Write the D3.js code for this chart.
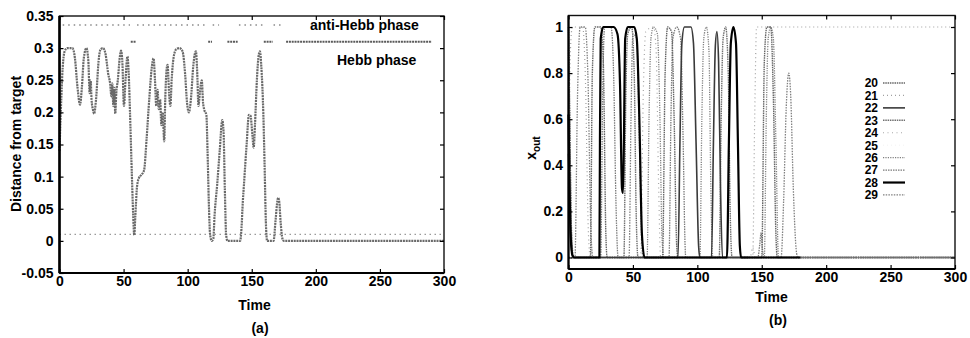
<!DOCTYPE html>
<html>
<head>
<meta charset="utf-8">
<script src="https://cdn.jsdelivr.net/npm/d3@7"></script>
<style>
  html, body { margin: 0; padding: 0; background: #fff; }
  svg { display: block; }
  text { font-family: "Liberation Sans", Arial, sans-serif; font-weight: bold; }
</style>
</head>
<body>
<svg id="chart" width="970" height="338"></svg>
<script>
// ---------------- DATA: panel (a) ----------------
const distTime = [0,1,2.5,4,6,10,12,14,16,17.5,19,21,22.5,23.5,24.3,25,26,27,28.5,30.5,32,34,36,38,39.5,40.5,41.2,42,42.8,43.5,44.3,45.5,47,48,49,50.3,51.5,53,54,55,56.5,57.5,58.3,59.2,60.5,62,64,66,68,70,72,73.4,74.5,75.5,76.5,77.5,78.5,79.5,80.5,81.7,82.5,83.5,84.3,85.5,86.5,87.5,89,91,93.5,96,98,99.5,101,102.5,104.5,106.4,107.5,108.4,109.5,111,112,112.8,114.6,115.5,116.5,117.5,118.8,120,121,123,125,127,128,129,130,131,141,142,143,144,146,147.8,149,150.5,151.5,152.5,154,155.5,156.4,157.5,159,160,161,162,167,168.5,170,170.6,171.5,172.5,174,175,300];
const distValue = [0.14,0.20,0.27,0.295,0.30,0.30,0.285,0.24,0.212,0.24,0.285,0.30,0.28,0.23,0.25,0.22,0.205,0.198,0.22,0.28,0.298,0.30,0.29,0.26,0.245,0.225,0.245,0.21,0.238,0.198,0.23,0.25,0.285,0.296,0.28,0.21,0.25,0.287,0.26,0.20,0.10,0.04,0.009,0.04,0.085,0.098,0.103,0.11,0.16,0.22,0.27,0.284,0.25,0.21,0.235,0.205,0.22,0.18,0.20,0.155,0.22,0.265,0.274,0.23,0.21,0.25,0.285,0.298,0.30,0.295,0.26,0.215,0.20,0.22,0.275,0.295,0.26,0.21,0.23,0.25,0.215,0.205,0.196,0.14,0.06,0.01,0.0,0.003,0.04,0.087,0.14,0.188,0.17,0.08,0.01,0.0,0.0,0.02,0.06,0.09,0.15,0.196,0.195,0.165,0.145,0.18,0.25,0.29,0.295,0.27,0.2,0.12,0.03,0.0,0.0,0.03,0.062,0.067,0.06,0.03,0.003,0.0,0.0];
const thresholdValue = 0.01;
const hebbLevel = 0.31;
const antiHebbLevel = 0.336;
const hebbIntervals = [[55.6,59.5],[116,119],[131,139],[159.4,166.4],[176.8,290.5]];
const antiHebbIntervals = [[2.5,55],[60.5,115.5],[119.5,124.5],[140,158.5],[167,173]];
const timeTicks = [0,50,100,150,200,250,300];
const distTicks = [-0.05,0,0.05,0.1,0.15,0.2,0.25,0.3,0.35];
const distTickLabels = ["-0.05","0","0.05","0.1","0.15","0.2","0.25","0.3","0.35"];

// ---------------- DATA: panel (b) ----------------
const seriesNames = ["20","21","22","23","24","25","26","27","28","29"];
const s20 = [[0,1],[1,0.6],[2,0.15],[3.5,0],[17,0],[18.5,0.8],[20.5,1],[25,1],[27,0.85],[29,0.1],[30,0],[73,0],[75,0.8],[77,1],[80,0.98],[82,0.6],[84,0.05],[85,0],[150,0],[152,0.85],[154,1],[157,1],[159,0.7],[161,0.1],[162,0],[300,0]];
const s21 = [[0,0.3],[1.5,0.9],[3,1],[11,1],[13,0.8],[15.5,0.1],[17,0],[143,0],[144.5,0.6],[146,1],[300,1]];
const s22 = [[0,0.45],[1,0.2],[2.5,0.03],[4,0],[85,0],[86.5,0.5],[88,0.93],[90,1],[95,1],[97,0.93],[99,0.5],[101,0.05],[102,0],[111,0],[112.5,0.5],[114,0.92],[115.2,0.98],[116.5,0.85],[118,0.3],[119.5,0],[140,0]];
const s23 = [[0,0.9],[1,0.5],[2,0.1],[3.5,0],[43,0],[44.5,0.7],[46,0.97],[49,1],[51,0.8],[52.5,0.2],[54,0],[117,0],[118.5,0.6],[120,0.95],[122,1],[124,0.8],[125.5,0.2],[127,0],[300,0]];
const s24 = [[0,0],[56,0],[58,0.7],[60,0.98],[66,1],[68,0.9],[70,0.3],[71.5,0],[141,0],[143,0.045],[145,0],[300,0]];
const s25 = [[0,0],[300,0]];
const s26 = [[0,0],[61,0],[62.5,0.6],[64,0.95],[66,1],[69,0.97],[71,0.6],[72.5,0.1],[74,0],[102,0],[103.5,0.6],[105,0.95],[107,1],[109,0.9],[110.5,0.3],[112,0],[152,0],[153.5,0.6],[155,0.95],[157,1],[159,0.95],[161,0.5],[163,0],[300,0]];
const s27 = [[0,1],[1.2,0.5],[2.5,0.1],[4,0],[25,0],[26.5,0.7],[28,1],[33,1],[35,0.8],[37,0.2],[38.5,0],[78,0],[79.5,0.6],[81,0.95],[84,1],[87,0.95],[89,0.5],[90.5,0.05],[91,0],[147,0],[148.5,0.06],[149.5,0.108],[150.5,0.04],[152,0],[300,0]];
const s28 = [[0,0.62],[0.8,0.3],[1.8,0.08],[3,0.01],[4.5,0],[24,0],[24.4,0.5],[25,0.95],[27,1],[35,1],[38,0.97],[40,0.75],[41.5,0.3],[42.3,0.28],[43,0.5],[44,0.95],[46,1],[51,1],[53,0.95],[55,0.6],[57,0.1],[59,0],[123,0],[124.5,0.5],[126,0.93],[128,1],[130,0.93],[131.5,0.5],[133,0.05],[134,0],[180,0]];
const s29 = [[0,0],[5,0],[7,0.7],[9,1],[13,1],[15,0.8],[17.5,0.1],[19,0],[47,0],[48.5,0.6],[50,0.97],[53,0.95],[55,0.5],[57,0.05],[58,0],[165,0],[167,0.25],[169,0.65],[171,0.8],[172.5,0.7],[174.5,0.3],[177,0.02],[178,0],[300,0]];
const seriesValues = [s20,s21,s22,s23,s24,s25,s26,s27,s28,s29];
const xoutTicks = [0,0.2,0.4,0.6,0.8,1];
const xoutTickLabels = ["0","0.2","0.4","0.6","0.8","1"];

// ---------------- STYLES ----------------
const seriesStyles = [
  {stroke:"#666",    width:1.4, dash:"1.5,0.8"},
  {stroke:"#a0a0a0", width:1.2, dash:"1,3"},
  {stroke:"#3a3a3a", width:1.6, dash:null},
  {stroke:"#707070", width:1.4, dash:"1.5,0.8"},
  {stroke:"#a8a8a8", width:1.2, dash:"1,3.5"},
  {stroke:"#f2f2f2", width:1.0, dash:"1,3"},
  {stroke:"#808080", width:1.3, dash:"1.2,1.2"},
  {stroke:"#7a7a7a", width:1.3, dash:"1.5,1"},
  {stroke:"#000",    width:2.2, dash:null},
  {stroke:"#808080", width:1.3, dash:"1.5,1.2"}
];
const FONT = 14;
const LEGEND_FONT = 12;

const svg = d3.select("#chart");

function styleAxis(g) {
  g.select(".domain").remove();
  g.selectAll(".tick line").attr("stroke", "#000").attr("stroke-width", 1.2);
  g.selectAll("text").attr("font-family", '"Liberation Sans", Arial, sans-serif')
    .attr("font-weight", "bold").attr("font-size", FONT).attr("fill", "#000");
}

function frame(x, y, thickLeft) {
  const [x0, x1] = x.range(), [y0, y1] = y.range();
  svg.append("rect").attr("x", x0).attr("y", y1).attr("width", x1 - x0).attr("height", y0 - y1)
    .attr("fill", "none").attr("stroke", "#111").attr("stroke-width", 1.4);
  svg.append("line").attr("x1", x0).attr("x2", x0).attr("y1", y1).attr("y2", y0).attr("stroke", "#000").attr("stroke-width", thickLeft);
  svg.append("line").attr("x1", x0).attr("x2", x1).attr("y1", y0).attr("y2", y0).attr("stroke", "#000").attr("stroke-width", 2.2);
}

function axes(x, y, yTicks, yLabels, xPad, yPad) {
  const [x0, x1] = x.range(), [y0, y1] = y.range();
  svg.append("g").attr("transform", `translate(0,${y0})`)
    .call(d3.axisBottom(x).tickValues(timeTicks).tickSizeInner(-4).tickSizeOuter(0).tickPadding(xPad).tickFormat(d3.format("d")))
    .call(styleAxis);
  svg.append("g").attr("transform", `translate(0,${y1})`)
    .call(d3.axisTop(x).tickValues(timeTicks).tickSizeInner(-4).tickSizeOuter(0).tickFormat(""))
    .call(styleAxis);
  svg.append("g").attr("transform", `translate(${x0},0)`)
    .call(d3.axisLeft(y).tickValues(yTicks).tickSizeInner(-4).tickSizeOuter(0).tickPadding(yPad).tickFormat((d, i) => yLabels[i]))
    .call(styleAxis);
  svg.append("g").attr("transform", `translate(${x1},0)`)
    .call(d3.axisRight(y).tickValues(yTicks).tickSizeInner(-4).tickSizeOuter(0).tickFormat(""))
    .call(styleAxis);
}

// ================= Panel (a) =================
const xA = d3.scaleLinear().domain([0, 300]).range([59.5, 444]);
const yA = d3.scaleLinear().domain([-0.05, 0.35]).range([273, 16]);

svg.append("path").datum([0, 300])
  .attr("d", d3.line().x(d => xA(d)).y(() => yA(thresholdValue)))
  .attr("fill", "none").attr("stroke", "#9a9a9a").attr("stroke-width", 1.2).attr("stroke-dasharray", "1.5,3.5");

svg.append("g").selectAll("line").data(antiHebbIntervals).join("line")
  .attr("x1", d => xA(d[0])).attr("x2", d => xA(d[1]))
  .attr("y1", yA(antiHebbLevel)).attr("y2", yA(antiHebbLevel))
  .attr("stroke", "#8a8a8a").attr("stroke-width", 1.3).attr("stroke-dasharray", "1.5,4");

svg.append("g").selectAll("line").data(hebbIntervals).join("line")
  .attr("x1", d => xA(d[0])).attr("x2", d => xA(d[1]))
  .attr("y1", yA(hebbLevel)).attr("y2", yA(hebbLevel))
  .attr("stroke", "#5a5a5a").attr("stroke-width", 2).attr("stroke-dasharray", "2,0.8");

svg.append("path").datum(d3.zip(distTime, distValue))
  .attr("d", d3.line().x(d => xA(d[0])).y(d => yA(d[1])).curve(d3.curveMonotoneX))
  .attr("fill", "none").attr("stroke", "#6a6a6a").attr("stroke-width", 2.2).attr("stroke-dasharray", "2,0.8");

frame(xA, yA, 2.6);
axes(xA, yA, distTicks, distTickLabels, 3, 6);

svg.append("text").attr("x", 310).attr("y", 30).attr("font-size", FONT).text("anti-Hebb phase");
svg.append("text").attr("x", 337).attr("y", 65).attr("font-size", FONT).text("Hebb phase");

svg.append("text").attr("transform", "translate(21,144) rotate(-90)").attr("text-anchor", "middle")
  .attr("font-size", FONT).text("Distance from target");
svg.append("text").attr("x", 254.5).attr("y", 310).attr("text-anchor", "middle").attr("font-size", FONT).text("Time");
svg.append("text").attr("x", 260).attr("y", 333).attr("text-anchor", "middle").attr("font-size", FONT).text("(a)");

// ================= Panel (b) =================
const xB = d3.scaleLinear().domain([0, 300]).range([568.5, 955]);
const yB = d3.scaleLinear().domain([-0.05, 1.05]).range([269, 15.5]);
const lineB = d3.line().x(d => xB(d[0])).y(d => yB(d[1])).curve(d3.curveMonotoneX);

const order = [5, 1, 4, 6, 7, 9, 0, 3, 2, 8];
const gS = svg.append("g");
order.forEach(i => {
  const st = seriesStyles[i];
  gS.append("path").datum(seriesValues[i]).attr("d", lineB)
    .attr("fill", "none").attr("stroke", st.stroke).attr("stroke-width", st.width)
    .attr("stroke-dasharray", st.dash);
});

frame(xB, yB, 2.2);
axes(xB, yB, xoutTicks, xoutTickLabels, 3.5, 5.5);

// legend
const leg = svg.append("g");
seriesNames.forEach((name, i) => {
  const yy = 83 + i * 12.44;
  const st = seriesStyles[i];
  leg.append("text").attr("x", 878).attr("y", yy + 4.3).attr("text-anchor", "end")
    .attr("font-size", LEGEND_FONT).text(name);
  leg.append("line").attr("x1", 883).attr("x2", 905).attr("y1", yy).attr("y2", yy)
    .attr("stroke", st.stroke).attr("stroke-width", st.width).attr("stroke-dasharray", st.dash);
});

const xl = svg.append("text").attr("transform", "translate(536,148) rotate(-90)").attr("text-anchor", "middle")
  .attr("font-size", FONT);
xl.append("tspan").text("x");
xl.append("tspan").attr("dy", 4).attr("font-size", 10).text("out");

svg.append("text").attr("x", 771.5).attr("y", 302).attr("text-anchor", "middle").attr("font-size", FONT).text("Time");
svg.append("text").attr("x", 778).attr("y", 325).attr("text-anchor", "middle").attr("font-size", FONT).text("(b)");
</script>
</body>
</html>
